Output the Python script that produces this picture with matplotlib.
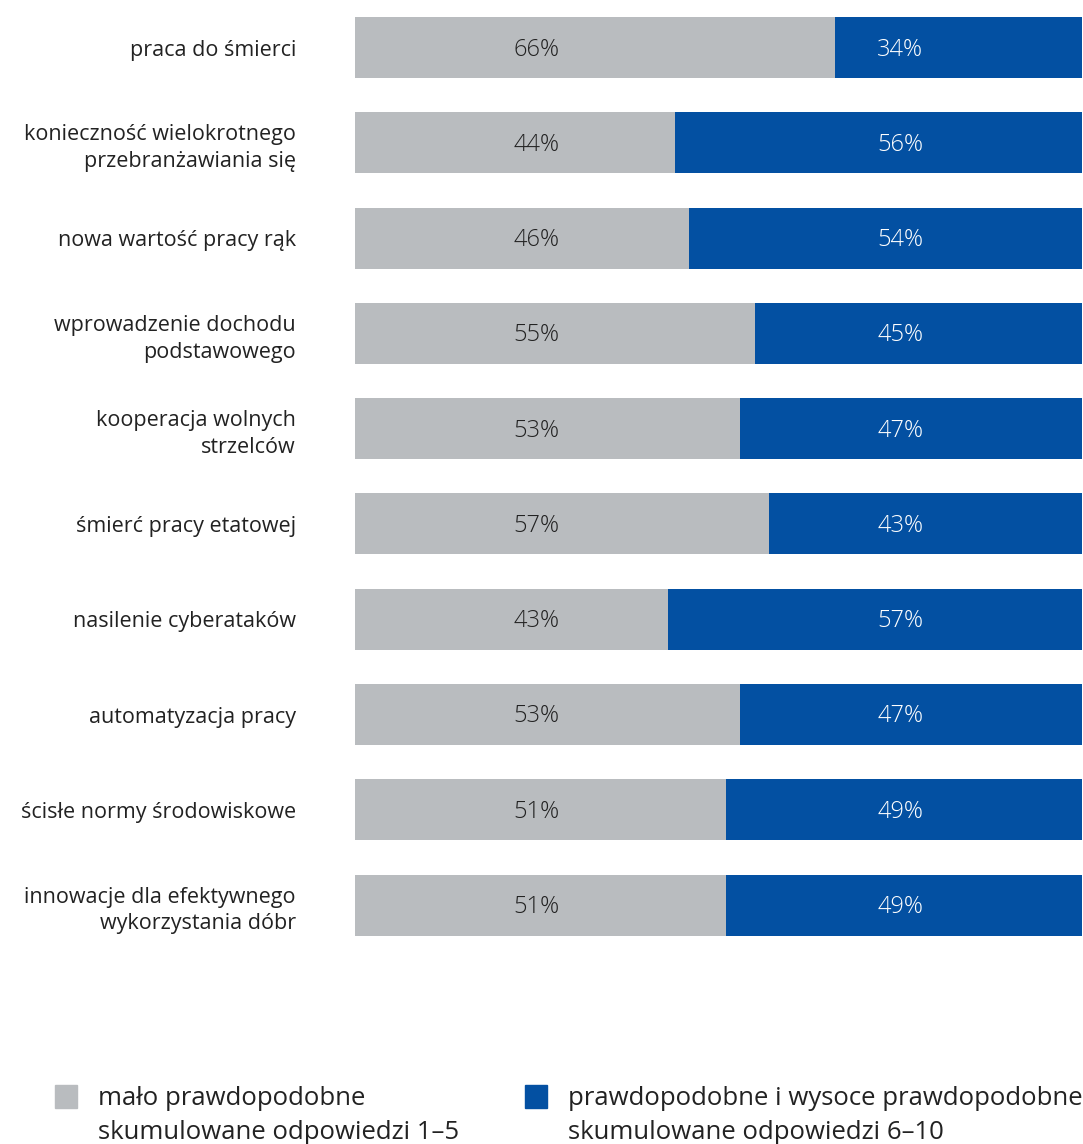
import matplotlib
matplotlib.use("Agg")
import matplotlib.pyplot as plt
from matplotlib.patches import Rectangle

plt.rcParams['font.family'] = ['Open Sans', 'DejaVu Sans']

categories = [
    "praca do śmierci",
    "konieczność wielokrotnego\nprzebranżawiania się",
    "nowa wartość pracy rąk",
    "wprowadzenie dochodu\npodstawowego",
    "kooperacja wolnych\nstrzelców",
    "śmierć pracy etatowej",
    "nasilenie cyberataków",
    "automatyzacja pracy",
    "ścisłe normy środowiskowe",
    "innowacje dla efektywnego\nwykorzystania dóbr",
]
unlikely = [66, 44, 46, 55, 53, 57, 43, 53, 51, 51]
likely = [34, 56, 54, 45, 47, 43, 57, 47, 49, 49]
legend_titles = ["mało prawdopodobne", "prawdopodobne i wysoce prawdopodobne"]
legend_notes = ["skumulowane odpowiedzi 1–5", "skumulowane odpowiedzi 6–10"]

GREY = "#B9BCBF"
BLUE = "#0350A2"
TEXT = "#222222"

W, H = 1083, 1144
fig = plt.figure(figsize=(W / 100, H / 100), dpi=100)
ax = fig.add_axes([355 / W, 1 - 952.7 / H, 727 / W, 952.7 / H])

y = list(range(len(categories)))
ax.barh(y, unlikely, height=0.64, color=GREY, linewidth=0)
ax.barh(y, likely, left=unlikely, height=0.64, color=BLUE, linewidth=0)

for yi, u, l in zip(y, unlikely, likely):
    ax.text(25, yi + 0.02, f"{u}%", ha="center", va="center", fontsize=17,
            color=TEXT, fontweight="light")
    ax.text(75, yi + 0.02, f"{l}%", ha="center", va="center", fontsize=17,
            color="white", fontweight="light")

ax.set_xlim(0, 100)
ax.set_ylim(len(categories) - 0.5, -0.5)
ax.set_yticks(y)
ax.set_yticklabels(categories, fontsize=15.5, color=TEXT, linespacing=1.35)
ax.tick_params(axis="y", length=0, pad=42.5)
ax.set_xticks([])
for s in ax.spines.values():
    s.set_visible(False)

# legend: colour square, title line and note line
for x0, tx, col, title, note in zip([55, 525], [98, 568], [GREY, BLUE],
                                    legend_titles, legend_notes):
    fig.patches.append(Rectangle((x0 / W, 1 - 1108 / H), 22 / W, 23 / H,
                                 transform=fig.transFigure, color=col))
    fig.text(tx / W, 1 - 1105 / H, title, ha="left", va="baseline",
             fontsize=18.5, color=TEXT)
    fig.text(tx / W, 1 - 1139 / H, note, ha="left", va="baseline",
             fontsize=18.5, color=TEXT)

fig.savefig("out.png", dpi=100)
